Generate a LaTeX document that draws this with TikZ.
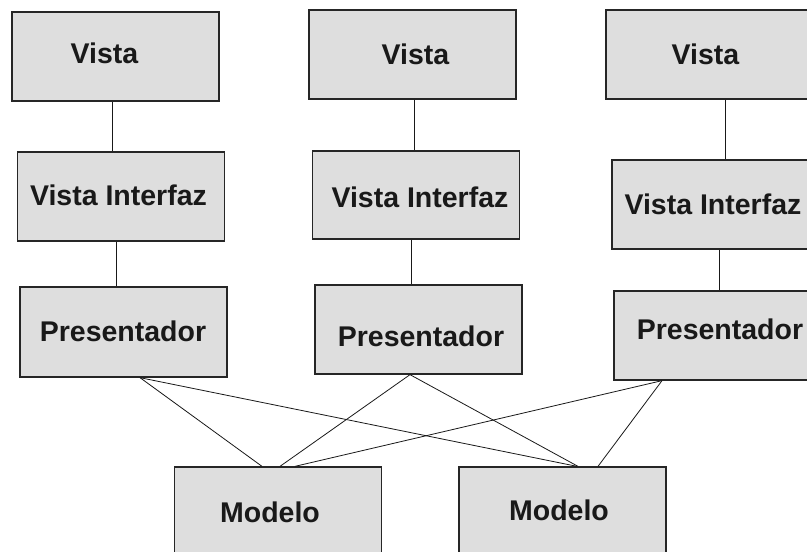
\documentclass[tikz,border=0pt]{standalone}
\usepackage{fontspec}
\setmainfont{Liberation Sans}
\begin{document}
\begin{tikzpicture}[x=1pt,y=-1pt,
  box/.style={draw=black!85,line width=1.3pt,fill=black!13,minimum width=207pt,minimum height=89pt,inner sep=0pt},
  lbl/.style={font=\fontsize{28.5}{30}\selectfont\bfseries,text=black!90,inner sep=0pt},
  conn/.style={draw=black!90,line width=0.8pt}]
\useasboundingbox (0,0) rectangle (807,552);
\clip (0,0) rectangle (807,552);
\fill[white] (0,0) rectangle (807,552);
% column 1
\node[box] (v1) at (115.5,56.5) {};
\node[lbl] (v1t) at (104.5,53) {Vista};
\node[box] (vi1) at (121,196.5) {};
\node[lbl] (vi1t) at (118.5,195.5) {Vista Interfaz};
\node[box,minimum height=90pt] (p1) at (123.5,332) {};
\node[lbl] (p1t) at (123,331) {Presentador};
% column 2
\node[box] (v2) at (412.5,54.5) {};
\node[lbl] (v2t) at (415.5,54) {Vista};
\node[box,minimum height=88pt] (vi2) at (416,195) {};
\node[lbl] (vi2t) at (420,197) {Vista Interfaz};
\node[box] (p2) at (418.5,329.5) {};
\node[lbl] (p2t) at (421,336) {Presentador};
% column 3
\node[box] (v3) at (709.5,54.5) {};
\node[lbl] (v3t) at (705.5,54) {Vista};
\node[box] (vi3) at (715.5,204.5) {};
\node[lbl] (vi3t) at (713,204) {Vista Interfaz};
\node[box] (p3) at (717.5,335.5) {};
\node[lbl] (p3t) at (720,329) {Presentador};
% models
\node[box] (m1) at (278,511.5) {};
\node[lbl] (m1t) at (270,512.5) {Modelo};
\node[box] (m2) at (562.5,511.5) {};
\node[lbl] (m2t) at (559,510.5) {Modelo};
% vertical connectors
\draw[conn] ([xshift=-3.5pt]v1.south) -- ([xshift=-9pt]vi1.north);
\draw[conn] ([xshift=-5pt]vi1.south) -- ([xshift=-7.5pt]p1.north);
\draw[conn] ([xshift=1.5pt]v2.south) -- ([xshift=-2pt]vi2.north);
\draw[conn] ([xshift=-5pt]vi2.south) -- ([xshift=-7.5pt]p2.north);
\draw[conn] ([xshift=15.5pt]v3.south) -- ([xshift=9.5pt]vi3.north);
\draw[conn] ([xshift=3.5pt]vi3.south) -- ([xshift=1.5pt]p3.north);
% diagonal connectors
\draw[conn] ([xshift=16.5pt]p1.south) -- ([xshift=-16pt]m1.north);
\draw[conn] ([xshift=16.5pt]p1.south) -- ([xshift=14.5pt]m2.north);
\draw[conn] ([xshift=-8.5pt]p2.south) -- ([xshift=2pt]m1.north);
\draw[conn] ([xshift=-8.5pt]p2.south) -- ([xshift=15.5pt]m2.north);
\draw[conn] ([xshift=-55.5pt]p3.south) -- ([xshift=17pt]m1.north);
\draw[conn] ([xshift=-55.5pt]p3.south) -- ([xshift=35.5pt]m2.north);
\end{tikzpicture}
\end{document}
